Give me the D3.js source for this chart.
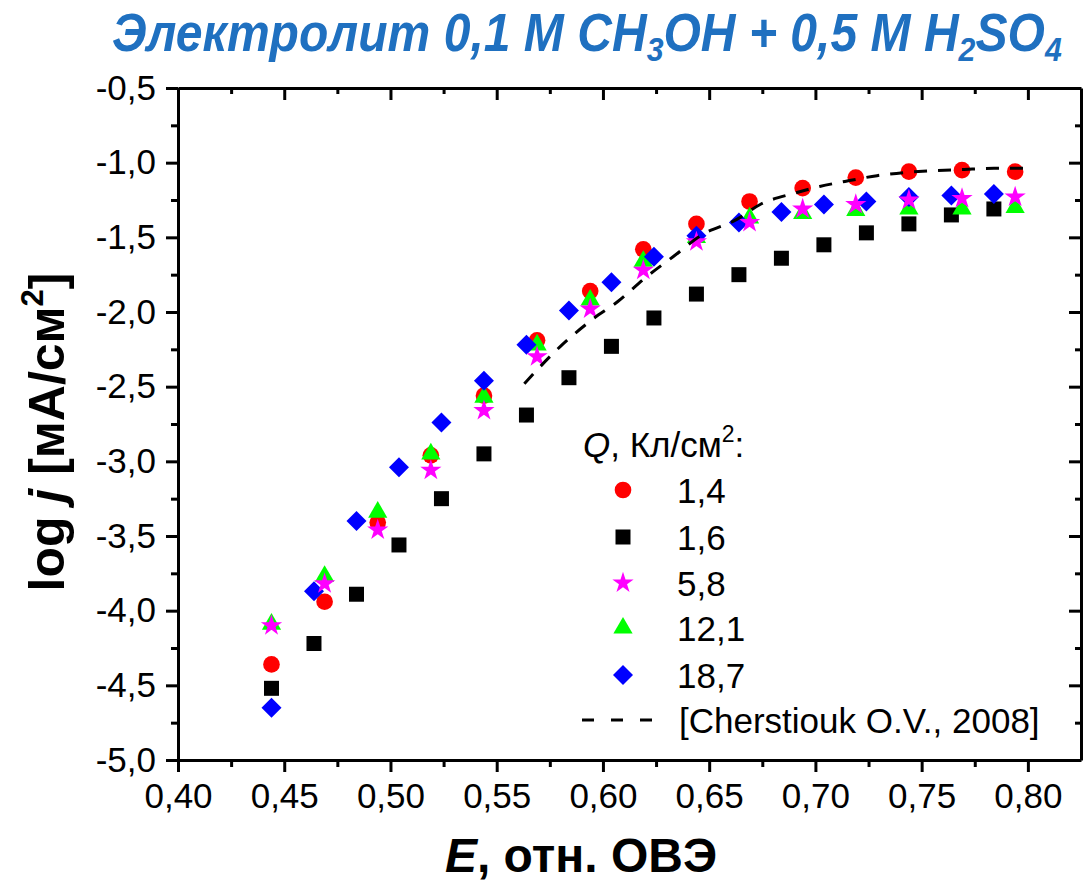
<!DOCTYPE html>
<html>
<head>
<meta charset="utf-8">
<script src="https://cdn.jsdelivr.net/npm/d3@7"></script>
<style>
  body { margin: 0; background: #fff; }
  svg { display: block; font-family: "Liberation Sans", Arial, sans-serif; }
</style>
</head>
<body>
<svg id="chart" width="1087" height="886"></svg>
<script>
// potentials for the 1,4 / 5,8 / 12,1 series
const eA = [0.444, 0.469, 0.494, 0.519, 0.544, 0.569, 0.594, 0.619, 0.644, 0.669, 0.694, 0.719, 0.744, 0.769, 0.794];
// potentials for the 1,6 / 18,7 series
const eB = [0.444, 0.464, 0.484, 0.504, 0.524, 0.544, 0.564, 0.584, 0.604, 0.624, 0.644, 0.664, 0.684, 0.704, 0.724, 0.744, 0.764, 0.784];

const q14 = [-4.36, -3.94, -3.41, -2.96, -2.56, -2.19, -1.86, -1.58, -1.41, -1.26, -1.17, -1.10, -1.06, -1.05, -1.06];
const q16 = [-4.52, -4.22, -3.89, -3.56, -3.25, -2.95, -2.69, -2.44, -2.23, -2.04, -1.88, -1.75, -1.64, -1.55, -1.47, -1.41, -1.35, -1.31];
const q58 = [-4.10, -3.82, -3.46, -3.06, -2.66, -2.30, -1.98, -1.72, -1.53, -1.40, -1.31, -1.28, -1.25, -1.24, -1.23];
const q121 = [-4.09, -3.77, -3.34, -2.95, -2.57, -2.22, -1.92, -1.66, -1.50, -1.37, -1.34, -1.32, -1.31, -1.31, -1.30];
const q187 = [-4.65, -3.87, -3.40, -3.04, -2.74, -2.46, -2.22, -1.99, -1.80, -1.63, -1.49, -1.40, -1.33, -1.28, -1.26, -1.23, -1.22, -1.21];

// literature curve [Cherstiouk O.V., 2008]
const litE = [0.563, 0.580, 0.595, 0.607, 0.620, 0.633, 0.647, 0.663, 0.674, 0.690, 0.702, 0.716, 0.729, 0.743, 0.756, 0.770, 0.784, 0.800];
const litJ = [-2.48, -2.23, -2.05, -1.93, -1.77, -1.63, -1.48, -1.38, -1.28, -1.205, -1.16, -1.12, -1.087, -1.065, -1.054, -1.045, -1.038, -1.037];

const xTicks = [0.40, 0.45, 0.50, 0.55, 0.60, 0.65, 0.70, 0.75, 0.80];
const yTicks = [-5.0, -4.5, -4.0, -3.5, -3.0, -2.5, -2.0, -1.5, -1.0, -0.5];

const legendLabels = ["1,4", "1,6", "5,8", "12,1", "18,7"];

// Chart area
const plotL = 178, plotR = 1081, plotT = 88, plotB = 760;

const svg = d3.select("#chart");

const xScale = d3.scaleLinear().domain([0.40, 0.825]).range([plotL, plotR]);
const yScale = d3.scaleLinear().domain([-5.0, -0.5]).range([plotB, plotT]);

const loc = d3.formatLocale({ decimal: ",", thousands: " ", grouping: [3], currency: ["", ""], minus: "-" });
const fx = loc.format(".2f");
const fy = loc.format(".1f");

// minor ticks between majors
const xMinor = xTicks.slice(0, -1).map(t => t + 0.025);
const yMinor = yTicks.slice(0, -1).map(t => t + 0.25);

function styleAxis(g) {
  g.selectAll("path.domain").attr("stroke", "#000").attr("stroke-width", 3);
  g.selectAll(".tick line").attr("stroke", "#000").attr("stroke-width", 3);
  g.selectAll(".tick text").attr("font-size", 35).attr("fill", "#000")
    .attr("font-family", "'Liberation Sans', Arial, sans-serif");
}

// minor ticks first
svg.append("g").attr("transform", `translate(0,${plotB})`)
  .call(d3.axisBottom(xScale).tickValues(xMinor).tickSize(7).tickSizeOuter(0).tickFormat(""))
  .call(styleAxis).select(".domain").remove();
svg.append("g").attr("transform", `translate(${plotL},0)`)
  .call(d3.axisLeft(yScale).tickValues(yMinor).tickSize(7).tickSizeOuter(0).tickFormat(""))
  .call(styleAxis).select(".domain").remove();
svg.append("g").attr("transform", `translate(0,${plotT})`)
  .call(d3.axisBottom(xScale).tickValues(xMinor).tickSize(6).tickSizeOuter(0).tickFormat(""))
  .call(styleAxis).select(".domain").remove();
svg.append("g").attr("transform", `translate(${plotR},0)`)
  .call(d3.axisLeft(yScale).tickValues(yMinor).tickSize(6).tickSizeOuter(0).tickFormat(""))
  .call(styleAxis).select(".domain").remove();

// mirrored axes with inward ticks
svg.append("g").attr("transform", `translate(0,${plotT})`)
  .call(d3.axisBottom(xScale).tickValues(xTicks).tickSize(12).tickSizeOuter(0).tickFormat(""))
  .call(styleAxis);
svg.append("g").attr("transform", `translate(${plotR},0)`)
  .call(d3.axisLeft(yScale).tickValues(yTicks).tickSize(12).tickSizeOuter(0).tickFormat(""))
  .call(styleAxis);

// main axes
const gx = svg.append("g").attr("transform", `translate(0,${plotB})`)
  .call(d3.axisBottom(xScale).tickValues(xTicks).tickSize(12).tickSizeOuter(0).tickPadding(11).tickFormat(fx))
  .call(styleAxis);

const gy = svg.append("g").attr("transform", `translate(${plotL},0)`)
  .call(d3.axisLeft(yScale).tickValues(yTicks).tickSize(12).tickSizeOuter(0).tickPadding(10).tickFormat(fy))
  .call(styleAxis);

// series
const series = [
  { e: eB, v: q16, color: "#000000", type: d3.symbolSquare, size: 225, rot: 0 },
  { e: eA, v: q14, color: "#ff0000", type: d3.symbolCircle, size: 218, rot: 0 },
  { e: eA, v: q121, color: "#00ff00", type: d3.symbolTriangle, size: 160, rot: 0 },
  { e: eB, v: q187, color: "#0000ff", type: d3.symbolSquare, size: 200, rot: 45 },
  { e: eA, v: q58, color: "#ff00ff", type: d3.symbolStar, size: 140, rot: 0 }
];

series.forEach(s => {
  const pts = s.e.map((e, i) => [e, s.v[i]]);
  svg.append("g").selectAll("path")
    .data(pts)
    .enter()
    .append("path")
    .attr("d", d3.symbol().type(s.type).size(s.size))
    .attr("fill", s.color)
    .attr("transform", d => `translate(${xScale(d[0])},${yScale(d[1])}) rotate(${s.rot})`);
});

// literature curve
const litPts = litE.map((e, i) => [e, litJ[i]]);
svg.append("path")
  .datum(litPts)
  .attr("fill", "none")
  .attr("stroke", "#000")
  .attr("stroke-width", 3)
  .attr("stroke-dasharray", "13,11")
  .attr("d", d3.line().x(d => xScale(d[0])).y(d => yScale(d[1])).curve(d3.curveMonotoneX));

// legend
const lg = svg.append("g");
const lt = lg.append("text").attr("x", 583).attr("y", 457).attr("font-size", 35).attr("fill", "#000");
lt.append("tspan").attr("font-style", "italic").text("Q");
lt.append("tspan").text(", Кл/см");
lt.append("tspan").attr("font-size", 23).attr("dy", -15).text("2");
lt.append("tspan").attr("dy", 15).text(":");

const legendSeries = [series[1], series[0], series[4], series[2], series[3]];
const rowY = [490, 537, 583, 628, 675];
legendSeries.forEach((s, i) => {
  lg.append("path")
    .attr("d", d3.symbol().type(s.type).size(s.size))
    .attr("fill", s.color)
    .attr("transform", `translate(623,${rowY[i]}) rotate(${s.rot})`);
  lg.append("text").attr("x", 677).attr("y", rowY[i] + 13)
    .attr("font-size", 35).attr("fill", "#000").text(legendLabels[i]);
});
lg.append("line").attr("x1", 582).attr("x2", 653).attr("y1", 720).attr("y2", 720)
  .attr("stroke", "#000").attr("stroke-width", 3).attr("stroke-dasharray", "12,17");
lg.append("text").attr("x", 679).attr("y", 733).attr("font-size", 35).attr("fill", "#000")
  .text("[Cherstiouk O.V., 2008]");

// axis titles
const xl = svg.append("text").attr("x", 581).attr("y", 872).attr("text-anchor", "middle")
  .attr("font-size", 48).attr("font-weight", "bold").attr("fill", "#000");
xl.append("tspan").attr("font-style", "italic").text("E");
xl.append("tspan").text(", отн. ОВЭ");

const yl = svg.append("text").attr("transform", "translate(64,432) rotate(-90)")
  .attr("text-anchor", "middle").attr("font-size", 50).attr("font-weight", "bold").attr("fill", "#000");
yl.append("tspan").text("log ");
yl.append("tspan").attr("font-style", "italic").text("j");
yl.append("tspan").text(" [мА/см");
yl.append("tspan").attr("font-size", 31).attr("dy", -21).text("2");
yl.append("tspan").attr("dy", 21).text("]");

// title, condensed to fit its width
const title = svg.append("text").attr("y", 51)
  .attr("font-size", 54).attr("font-weight", "bold").attr("font-style", "italic").attr("fill", "#1f70c0");
title.append("tspan").text("Электролит 0,1 М CH");
title.append("tspan").attr("font-size", 34).attr("dy", 10).text("3");
title.append("tspan").attr("dy", -10).text("OH + 0,5 М H");
title.append("tspan").attr("font-size", 34).attr("dy", 10).text("2");
title.append("tspan").attr("dy", -10).text("SO");
title.append("tspan").attr("font-size", 34).attr("dy", 10).text("4");
const tb = title.node().getBBox();
const sx = 950 / tb.width;
title.attr("transform", `translate(112,0) scale(${sx},1) translate(${-tb.x},0)`);
</script>
</body>
</html>
